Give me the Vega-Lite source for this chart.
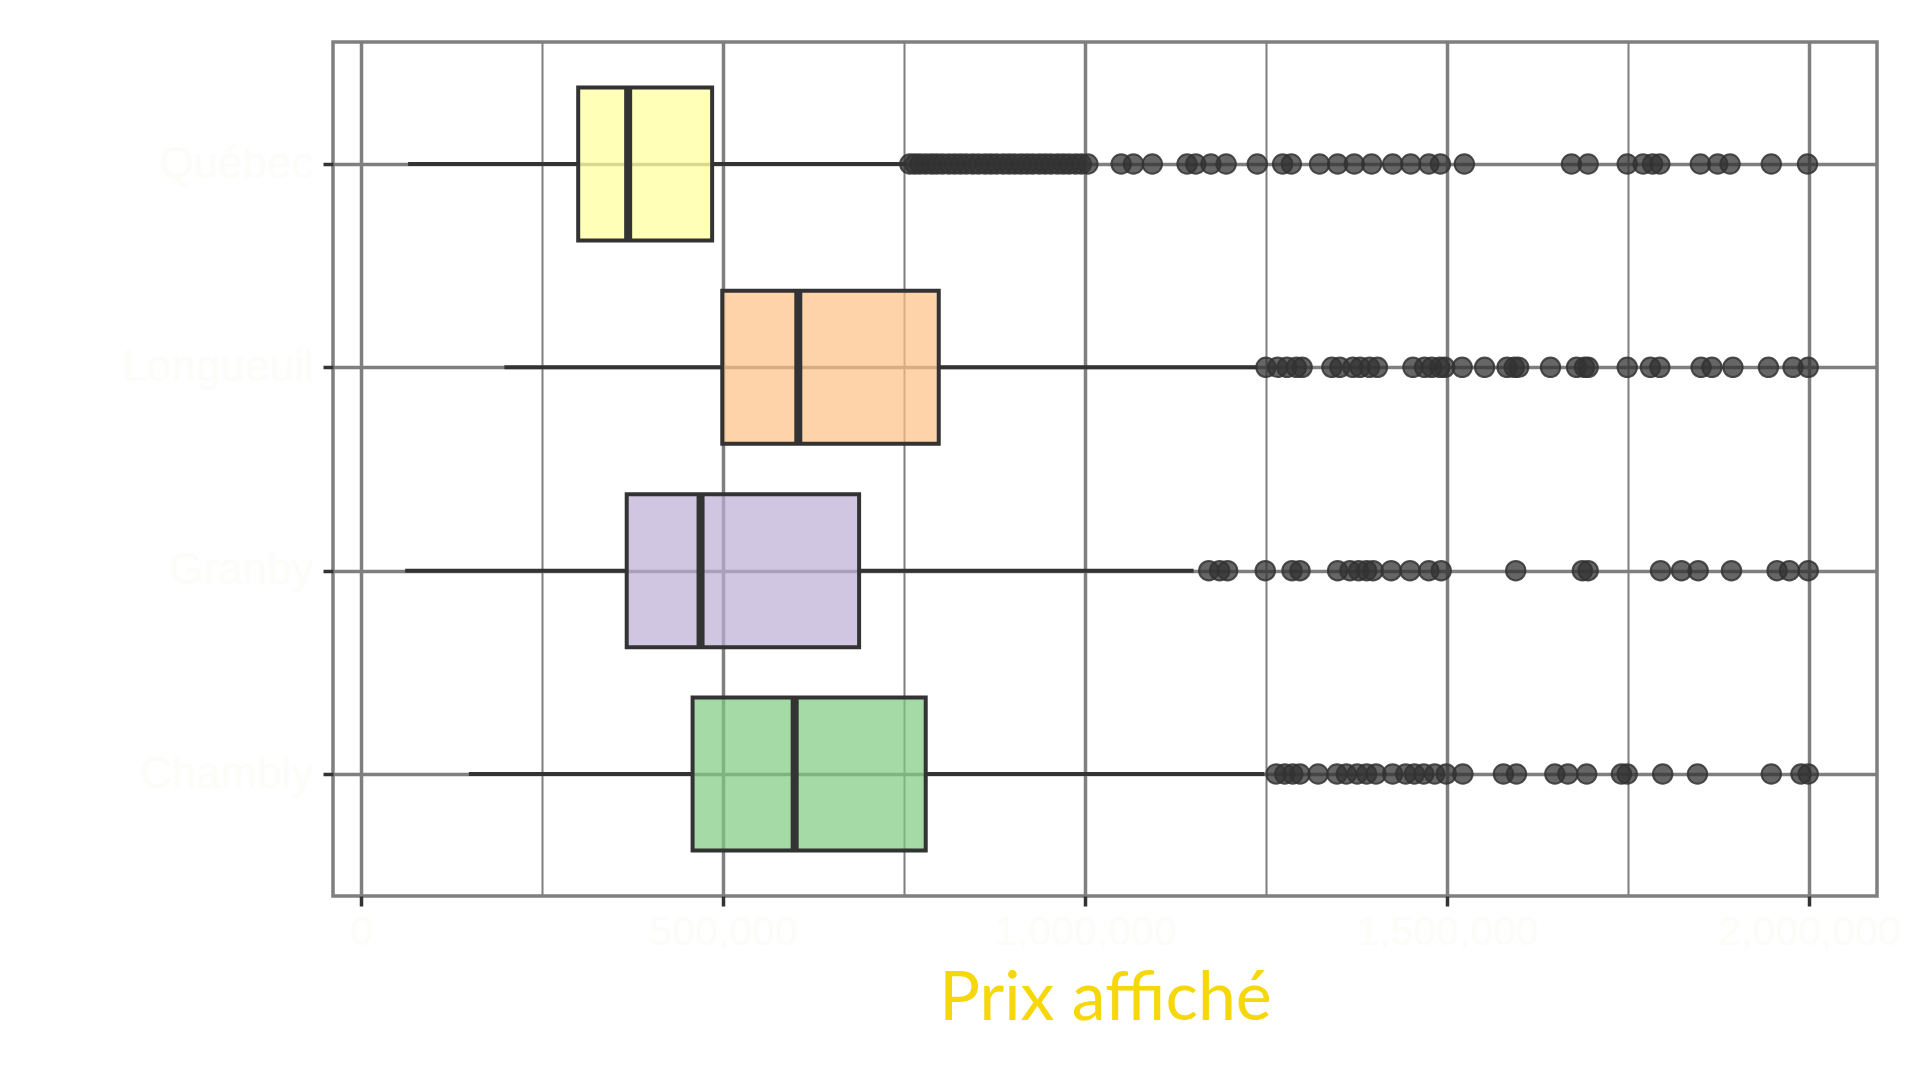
{
  "$schema": "https://vega.github.io/schema/vega-lite/v6.json",
  "width": 1544,
  "height": 854,
  "autosize": {"type": "none"},
  "padding": {"left": 333, "top": 42, "right": 43, "bottom": 184},
  "background": "white",
  "config": {
    "view": {"stroke": "#7f7f7f", "strokeWidth": 3.5},
    "axisY": {"grid": true, "gridColor": "#7f7f7f", "gridWidth": 3.5, "tickColor": "#333333", "tickWidth": 3.5, "tickSize": 10, "domain": false, "labelFont": "Liberation Sans", "labelFontSize": 44, "labelColor": "#fcfcf8", "labelPadding": 10, "labelLimit": 0}
  },
  "datasets": {
    "stats": [
      {"city": "Québec", "lo": 65000, "q1": 300000, "median": 369000, "q3": 485000, "hi": 753000},
      {"city": "Longueuil", "lo": 198000, "q1": 499000, "median": 604000, "q3": 798000, "hi": 1238000},
      {"city": "Granby", "lo": 61000, "q1": 367000, "median": 469000, "q3": 688000, "hi": 1150000},
      {"city": "Chambly", "lo": 149000, "q1": 458000, "median": 599000, "q3": 780000, "hi": 1248000}
    ],
    "outliers": [
      {"city": "Québec", "value": 758000}, {"city": "Québec", "value": 765000}, {"city": "Québec", "value": 772000}, {"city": "Québec", "value": 780000},
      {"city": "Québec", "value": 788000}, {"city": "Québec", "value": 795000}, {"city": "Québec", "value": 803000}, {"city": "Québec", "value": 812000},
      {"city": "Québec", "value": 820000}, {"city": "Québec", "value": 828000}, {"city": "Québec", "value": 836000}, {"city": "Québec", "value": 845000},
      {"city": "Québec", "value": 853000}, {"city": "Québec", "value": 862000}, {"city": "Québec", "value": 870000}, {"city": "Québec", "value": 878000},
      {"city": "Québec", "value": 887000}, {"city": "Québec", "value": 895000}, {"city": "Québec", "value": 903000}, {"city": "Québec", "value": 912000},
      {"city": "Québec", "value": 920000}, {"city": "Québec", "value": 928000}, {"city": "Québec", "value": 937000}, {"city": "Québec", "value": 945000},
      {"city": "Québec", "value": 953000}, {"city": "Québec", "value": 962000}, {"city": "Québec", "value": 970000}, {"city": "Québec", "value": 978000},
      {"city": "Québec", "value": 987000}, {"city": "Québec", "value": 995000}, {"city": "Québec", "value": 1004000},
      {"city": "Québec", "value": 1050000}, {"city": "Québec", "value": 1067000}, {"city": "Québec", "value": 1093000}, {"city": "Québec", "value": 1141000},
      {"city": "Québec", "value": 1153000}, {"city": "Québec", "value": 1174000}, {"city": "Québec", "value": 1195000}, {"city": "Québec", "value": 1238000},
      {"city": "Québec", "value": 1273000}, {"city": "Québec", "value": 1285000}, {"city": "Québec", "value": 1324000}, {"city": "Québec", "value": 1349000},
      {"city": "Québec", "value": 1372000}, {"city": "Québec", "value": 1396000}, {"city": "Québec", "value": 1425000}, {"city": "Québec", "value": 1450000},
      {"city": "Québec", "value": 1475000}, {"city": "Québec", "value": 1491000}, {"city": "Québec", "value": 1524000}, {"city": "Québec", "value": 1672000},
      {"city": "Québec", "value": 1695000}, {"city": "Québec", "value": 1749000}, {"city": "Québec", "value": 1771000}, {"city": "Québec", "value": 1784000},
      {"city": "Québec", "value": 1794000}, {"city": "Québec", "value": 1850000}, {"city": "Québec", "value": 1874000}, {"city": "Québec", "value": 1891000},
      {"city": "Québec", "value": 1948000}, {"city": "Québec", "value": 1998000},
      {"city": "Longueuil", "value": 1250000}, {"city": "Longueuil", "value": 1266000}, {"city": "Longueuil", "value": 1279000}, {"city": "Longueuil", "value": 1292000},
      {"city": "Longueuil", "value": 1300000}, {"city": "Longueuil", "value": 1341000}, {"city": "Longueuil", "value": 1352000}, {"city": "Longueuil", "value": 1370000},
      {"city": "Longueuil", "value": 1380000}, {"city": "Longueuil", "value": 1393000}, {"city": "Longueuil", "value": 1404000}, {"city": "Longueuil", "value": 1453000},
      {"city": "Longueuil", "value": 1469000}, {"city": "Longueuil", "value": 1479000}, {"city": "Longueuil", "value": 1490000}, {"city": "Longueuil", "value": 1497000},
      {"city": "Longueuil", "value": 1521000}, {"city": "Longueuil", "value": 1552000}, {"city": "Longueuil", "value": 1583000}, {"city": "Longueuil", "value": 1593000},
      {"city": "Longueuil", "value": 1599000}, {"city": "Longueuil", "value": 1643000}, {"city": "Longueuil", "value": 1679000}, {"city": "Longueuil", "value": 1690000},
      {"city": "Longueuil", "value": 1695000}, {"city": "Longueuil", "value": 1749000}, {"city": "Longueuil", "value": 1781000}, {"city": "Longueuil", "value": 1794000},
      {"city": "Longueuil", "value": 1851000}, {"city": "Longueuil", "value": 1866000}, {"city": "Longueuil", "value": 1895000}, {"city": "Longueuil", "value": 1944000},
      {"city": "Longueuil", "value": 1978000}, {"city": "Longueuil", "value": 1999000},
      {"city": "Granby", "value": 1171000}, {"city": "Granby", "value": 1186000}, {"city": "Granby", "value": 1197000}, {"city": "Granby", "value": 1249000},
      {"city": "Granby", "value": 1286000}, {"city": "Granby", "value": 1297000}, {"city": "Granby", "value": 1349000}, {"city": "Granby", "value": 1366000},
      {"city": "Granby", "value": 1378000}, {"city": "Granby", "value": 1389000}, {"city": "Granby", "value": 1398000}, {"city": "Granby", "value": 1423000},
      {"city": "Granby", "value": 1449000}, {"city": "Granby", "value": 1475000}, {"city": "Granby", "value": 1492000}, {"city": "Granby", "value": 1595000},
      {"city": "Granby", "value": 1687000}, {"city": "Granby", "value": 1695000}, {"city": "Granby", "value": 1795000}, {"city": "Granby", "value": 1824000},
      {"city": "Granby", "value": 1847000}, {"city": "Granby", "value": 1893000}, {"city": "Granby", "value": 1956000}, {"city": "Granby", "value": 1973000},
      {"city": "Granby", "value": 1999000},
      {"city": "Chambly", "value": 1264000}, {"city": "Chambly", "value": 1276000}, {"city": "Chambly", "value": 1287000}, {"city": "Chambly", "value": 1297000},
      {"city": "Chambly", "value": 1322000}, {"city": "Chambly", "value": 1348000}, {"city": "Chambly", "value": 1361000}, {"city": "Chambly", "value": 1376000},
      {"city": "Chambly", "value": 1389000}, {"city": "Chambly", "value": 1402000}, {"city": "Chambly", "value": 1425000}, {"city": "Chambly", "value": 1443000},
      {"city": "Chambly", "value": 1455000}, {"city": "Chambly", "value": 1468000}, {"city": "Chambly", "value": 1483000}, {"city": "Chambly", "value": 1499000},
      {"city": "Chambly", "value": 1522000}, {"city": "Chambly", "value": 1578000}, {"city": "Chambly", "value": 1596000}, {"city": "Chambly", "value": 1649000},
      {"city": "Chambly", "value": 1667000}, {"city": "Chambly", "value": 1693000}, {"city": "Chambly", "value": 1741000}, {"city": "Chambly", "value": 1749000},
      {"city": "Chambly", "value": 1798000}, {"city": "Chambly", "value": 1846000}, {"city": "Chambly", "value": 1948000}, {"city": "Chambly", "value": 1989000},
      {"city": "Chambly", "value": 1999000}
    ]
  },
  "layer": [
    {
      "data": {"name": "stats"},
      "mark": {"type": "rule", "color": "#333333", "strokeWidth": 4},
      "encoding": {
        "y": {"field": "city", "type": "nominal", "title": null, "scale": {"type": "point", "domain": ["Québec", "Longueuil", "Granby", "Chambly"], "padding": 0.6}},
        "x": {"field": "lo", "type": "quantitative", "title": "Prix affiché",
          "scale": {"domain": [-38700, 2094000], "nice": false, "zero": false},
          "axis": {"values": [0, 250000, 500000, 750000, 1000000, 1250000, 1500000, 1750000, 2000000],
            "labelExpr": "datum.value % 500000 === 0 ? format(datum.value, ',') : ''",
            "grid": true, "gridColor": "#7f7f7f",
            "gridWidth": {"condition": {"test": "datum.value % 500000 === 0", "value": 3.5}, "value": 2},
            "tickColor": "#333333", "tickWidth": 3.5, "tickSize": 10,
            "tickOpacity": {"condition": {"test": "datum.value % 500000 === 0", "value": 1}, "value": 0},
            "domain": false, "labelFont": "Liberation Sans", "labelFontSize": 41, "labelColor": "#fcfcf8", "labelPadding": 6,
            "labelFlush": false, "labelOverlap": false, "labelLimit": 0,
            "titleFont": "Lato", "titleFontSize": 68, "titleFontWeight": "normal", "titleColor": "#f5d70a", "titleY": 123, "titleBaseline": "alphabetic"}},
        "x2": {"field": "q1"}
      }
    },
    {
      "data": {"name": "stats"},
      "mark": {"type": "rule", "color": "#333333", "strokeWidth": 4},
      "encoding": {
        "y": {"field": "city", "type": "nominal", "title": null},
        "x": {"field": "q3", "type": "quantitative", "title": "Prix affiché"},
        "x2": {"field": "hi"}
      }
    },
    {
      "data": {"name": "stats"},
      "mark": {"type": "bar", "size": 153, "stroke": "#333333", "strokeWidth": 4, "fillOpacity": 0.7},
      "encoding": {
        "y": {"field": "city", "type": "nominal", "title": null},
        "x": {"field": "q1", "type": "quantitative", "title": "Prix affiché"},
        "x2": {"field": "q3"},
        "fill": {"field": "city", "type": "nominal", "legend": null,
          "scale": {"domain": ["Chambly", "Granby", "Longueuil", "Québec"], "range": ["#7fc97f", "#beaed4", "#fdc086", "#ffff99"]}}
      }
    },
    {
      "data": {"name": "stats"},
      "mark": {"type": "tick", "size": 153, "thickness": 8, "color": "#333333", "opacity": 1},
      "encoding": {
        "y": {"field": "city", "type": "nominal", "title": null},
        "x": {"field": "median", "type": "quantitative", "title": "Prix affiché"}
      }
    },
    {
      "data": {"name": "outliers"},
      "mark": {"type": "circle", "size": 380, "fill": "#333333", "fillOpacity": 0.75, "stroke": "#333333", "strokeOpacity": 0.85, "strokeWidth": 2},
      "encoding": {
        "y": {"field": "city", "type": "nominal", "title": null},
        "x": {"field": "value", "type": "quantitative", "title": "Prix affiché"}
      }
    }
  ]
}
